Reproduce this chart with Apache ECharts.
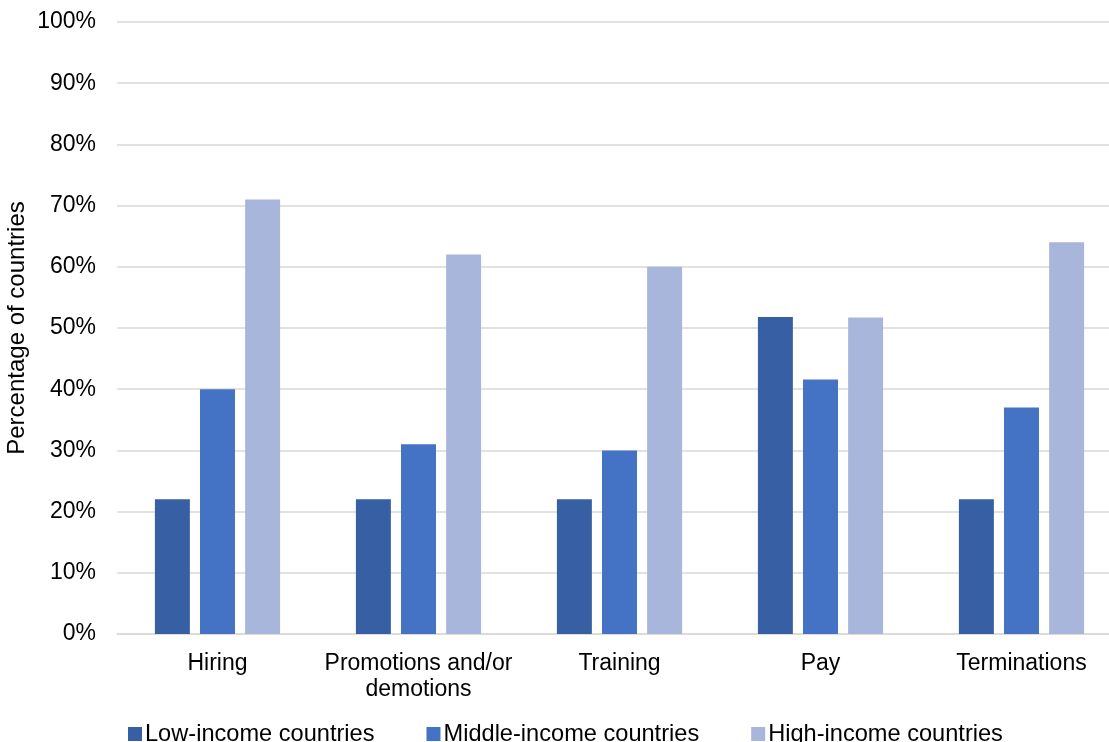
<!DOCTYPE html>
<html><head><meta charset="utf-8">
<script src="https://cdn.jsdelivr.net/npm/echarts@6/dist/echarts.min.js"></script>
<style>html,body{margin:0;padding:0;background:#fff}#c{width:1109px;height:742px}</style>
</head><body><div id="c"></div>
<script>
const categories = ['Hiring', 'Promotions and/or\ndemotions', 'Training', 'Pay', 'Terminations'];
const lowIncome = [22, 22, 22, 51.8, 22];
const middleIncome = [40, 31, 30, 41.6, 37];
const highIncome = [71, 62, 60, 51.7, 64];
const yTicks = [0, 10, 20, 30, 40, 50, 60, 70, 80, 90, 100];

const font = 'Liberation Sans, Arial, sans-serif';
const chart = echarts.init(document.getElementById('c'), null, {renderer: 'canvas'});
const mk = (name, data, color) => ({
  name, type: 'bar', data, barWidth: '17.4%', barGap: '29%',
  itemStyle: {color}
});
chart.setOption({
  animation: false,
  textStyle: {fontFamily: font},
  grid: {left: 117, top: 22, width: 1005, bottom: 108, outerBoundsMode: 'none', containLabel: false},
  legend: {
    left: 123, top: 717, itemWidth: 14, itemHeight: 14, itemGap: 52,
    icon: 'rect',
    textStyle: {fontSize: 23.6, color: '#000', fontFamily: font, padding: [0, 0, 0, -2]},
    data: ['Low-income countries', 'Middle-income countries', 'High-income countries']
  },
  xAxis: {
    type: 'category', data: categories,
    axisLine: {lineStyle: {color: '#d9d9d9', width: 1.5}},
    axisTick: {show: false},
    axisLabel: {interval: 0, fontSize: 23, color: '#000', margin: 17, lineHeight: 26, fontFamily: font}
  },
  yAxis: {
    type: 'value', min: 0, max: 100, interval: 10,
    name: 'Percentage of countries', nameLocation: 'middle', nameGap: 88, nameMoveOverlap: false,
    nameTextStyle: {fontSize: 24, color: '#000', fontFamily: font},
    axisLabel: {fontSize: 23, color: '#000', margin: 21, formatter: v => yTicks.includes(v) ? v + '%' : '', fontFamily: font},
    splitLine: {lineStyle: {color: '#d9d9d9', width: 1.5}},
    axisLine: {show: false}, axisTick: {show: false}
  },
  series: [
    mk('Low-income countries', lowIncome, '#375FA3'),
    mk('Middle-income countries', middleIncome, '#4472C4'),
    mk('High-income countries', highIncome, '#A8B6DB')
  ]
});
</script></body></html>
